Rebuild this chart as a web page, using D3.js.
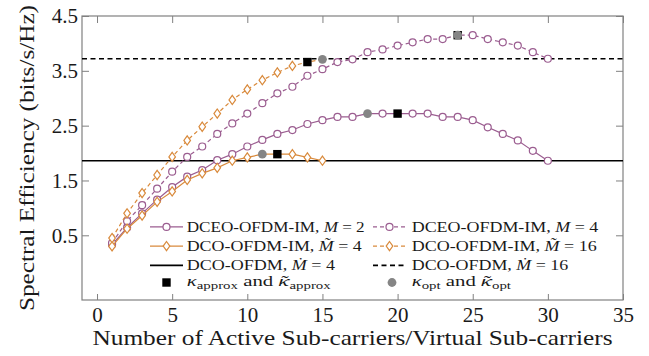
<!DOCTYPE html>
<html><head><meta charset="utf-8">
<script src="https://cdn.jsdelivr.net/npm/d3@7"></script>
<style>body{margin:0;background:#fff} svg{display:block} text{font-family:'Liberation Serif','DejaVu Serif',serif}</style>
</head><body><svg id="chart" width="649" height="356"></svg>
<script>
// ---------- data ----------
const subcarriersDCEO = [1,2,3,4,5,6,7,8,9,10,11,12,13,14,15,16,17,18,19,20,21,22,23,24,25,26,27,28,29,30];
const subcarriersDCO  = [1,2,3,4,5,6,7,8,9,10,11,12,13,14,15];
const seDceoM2  = [0.33,0.64,0.90,1.15,1.38,1.57,1.69,1.87,1.98,2.12,2.24,2.35,2.42,2.53,2.60,2.66,2.66,2.72,2.72,2.72,2.72,2.72,2.66,2.66,2.60,2.47,2.35,2.23,2.04,1.86];
const seDceoM4  = [0.36,0.76,1.05,1.35,1.66,1.93,2.12,2.35,2.54,2.72,2.91,3.09,3.21,3.41,3.53,3.66,3.71,3.84,3.89,3.96,4.02,4.08,4.08,4.15,4.15,4.08,4.02,3.96,3.84,3.72];
const seDcoImM4  = [0.30,0.62,0.86,1.11,1.30,1.51,1.63,1.73,1.86,1.92,1.98,1.98,1.98,1.92,1.86];
const seDcoImM16 = [0.45,0.90,1.27,1.60,1.93,2.23,2.48,2.72,2.97,3.16,3.33,3.47,3.59,3.66,3.71];
const seDcoOfdm = [1.86, 3.72];          // Ṁ = 4, Ṁ = 16
const kappaApprox = [20, 24, 12, 14];    // per IM series (same order as above)
const kappaOpt    = [18, 24, 11, 15];
const xTickValues = [0,5,10,15,20,25,30,35];
const yTickValues = [0.5,1.5,2.5,3.5,4.5];

// ---------- styles ----------
const PURPLE = "#9b5d90", ORANGE = "#d98a3c", GRAY = "#858585", AXIS = "#808080";
const FONT = "'Liberation Serif','DejaVu Serif',serif";
const TXT = "#1a1a1a";

const series = [
  {xs: subcarriersDCEO, ys: seDceoM2,  color: PURPLE, dash: null,  marker: "circle",  label: ["DCEO-OFDM-IM, ", "M", " = 2"]},
  {xs: subcarriersDCEO, ys: seDceoM4,  color: PURPLE, dash: "4,3", marker: "circle",  label: ["DCEO-OFDM-IM, ", "M", " = 4"]},
  {xs: subcarriersDCO,  ys: seDcoImM4, color: ORANGE, dash: null,  marker: "diamond", label: ["DCO-OFDM-IM, ", "M\u0303", " = 4"]},
  {xs: subcarriersDCO,  ys: seDcoImM16,color: ORANGE, dash: "4,3", marker: "diamond", label: ["DCO-OFDM-IM, ", "M\u0303", " = 16"]}
];
const refLines = [
  {y: seDcoOfdm[0], dash: null,  label: ["DCO-OFDM, ", "\u1E40", " = 4"]},
  {y: seDcoOfdm[1], dash: "5,3.5", label: ["DCO-OFDM, ", "\u1E40", " = 16"]}
];

// ---------- layout ----------
const L = 82, R = 623, T = 16, B = 300;
const svg = d3.select("#chart");
const x = d3.scaleLinear().domain([-1, 35]).range([L, R]);
const y = d3.scaleLinear().domain([-0.68, 4.5]).range([B, T]);

const diamondPath = "M0,-4.6L3.3,0L0,4.6L-3.3,0Z";

// axes (ticks inward on all sides)
const gx = svg.append("g").attr("transform", `translate(0,${B})`)
  .call(d3.axisBottom(x).tickValues(xTickValues).tickSizeInner(-6).tickSizeOuter(0).tickPadding(7).tickFormat(d3.format("d")));
const gxt = svg.append("g").attr("transform", `translate(0,${T})`)
  .call(d3.axisTop(x).tickValues(xTickValues).tickSizeInner(-7).tickSizeOuter(0).tickFormat(""));
const gy = svg.append("g").attr("transform", `translate(${L},0)`)
  .call(d3.axisLeft(y).tickValues(yTickValues).tickSizeInner(-7).tickSizeOuter(0).tickPadding(4).tickFormat(d3.format(".1f")));
const gyr = svg.append("g").attr("transform", `translate(${R},0)`)
  .call(d3.axisRight(y).tickValues(yTickValues).tickSizeInner(-7).tickSizeOuter(0).tickFormat(""));
[gx, gxt, gy, gyr].forEach(g => {
  g.attr("font-family", null);
  g.select(".domain").remove();
  g.selectAll(".tick line").attr("stroke", AXIS).attr("stroke-width", 1);
  g.selectAll("text").style("font-family", FONT).attr("font-size", 21).attr("fill", TXT);
});
svg.append("rect").attr("x", L).attr("y", T).attr("width", R - L).attr("height", B - T)
  .attr("fill", "none").attr("stroke", AXIS).attr("stroke-width", 1.2);

// axis titles
svg.append("text").attr("x", (L + R) / 2).attr("y", 345).attr("text-anchor", "middle")
  .style("font-family", FONT).attr("font-size", 21).attr("fill", TXT)
  .attr("textLength", 520).attr("lengthAdjust", "spacingAndGlyphs")
  .text("Number of Active Sub-carriers/Virtual Sub-carriers");
svg.append("text").attr("transform", `translate(34,${(T + B) / 2}) rotate(-90)`).attr("text-anchor", "middle")
  .style("font-family", FONT).attr("font-size", 21).attr("fill", TXT)
  .attr("textLength", 306).attr("lengthAdjust", "spacingAndGlyphs")
  .text("Spectral Efficiency (bits/s/Hz)");

const plot = svg.append("g");

// reference DCO-OFDM lines
refLines.forEach(r => {
  plot.append("line").attr("x1", L).attr("x2", R).attr("y1", y(r.y)).attr("y2", y(r.y))
    .attr("stroke", "#000").attr("stroke-width", 1.6).attr("stroke-dasharray", r.dash);
});

// series
const line = d3.line().x(d => x(d[0])).y(d => y(d[1]));
series.forEach((s, i) => {
  const pts = s.xs.map((v, j) => [v, s.ys[j]]);
  plot.append("path").attr("d", line(pts)).attr("fill", "none")
    .attr("stroke", s.color).attr("stroke-width", 1.2).attr("stroke-dasharray", s.dash);
  const mpts = pts.filter(p => p[0] !== kappaApprox[i] && p[0] !== kappaOpt[i]);
  if (s.marker === "circle") {
    plot.selectAll(null).data(mpts).enter().append("circle")
      .attr("cx", d => x(d[0])).attr("cy", d => y(d[1])).attr("r", 3.5)
      .attr("fill", "#fff").attr("stroke", s.color).attr("stroke-width", 1.2);
  } else {
    plot.selectAll(null).data(mpts).enter().append("path")
      .attr("d", diamondPath).attr("transform", d => `translate(${x(d[0])},${y(d[1])})`)
      .attr("fill", "#fff").attr("stroke", s.color).attr("stroke-width", 1.2);
  }
});
// kappa markers
series.forEach((s, i) => {
  const j = s.xs.indexOf(kappaApprox[i]);
  plot.append("rect").attr("x", x(kappaApprox[i]) - 4.2).attr("y", y(s.ys[j]) - 4.2)
    .attr("width", 8.4).attr("height", 8.4).attr("fill", "#000");
});
series.forEach((s, i) => {
  const j = s.xs.indexOf(kappaOpt[i]);
  plot.append("circle").attr("cx", x(kappaOpt[i])).attr("cy", y(s.ys[j])).attr("r", 4.4).attr("fill", GRAY);
});

// ---------- legend ----------
const leg = svg.append("g");
const cols = [{x1: 150, x2: 183, tx: 186.7}, {x1: 373, x2: 406, tx: 411.7}];
const rowsY = [231.5, 250.7, 270, 286];
const widths = [[178, 175, 148.3, 144], [186.6, 185, 156.6, 99.3]];
function addLabel(parts, tx, ty, w) {
  const t = leg.append("text").attr("x", tx).attr("y", ty).style("font-family", FONT).attr("font-size", 14)
    .attr("fill", TXT).attr("textLength", w).attr("lengthAdjust", "spacingAndGlyphs");
  t.append("tspan").text(parts[0]);
  t.append("tspan").attr("font-style", "italic").text(parts[1]);
  t.append("tspan").text(parts[2]);
}
function addKappaLabel(sub, tx, ty, w) {
  const t = leg.append("text").attr("x", tx).attr("y", ty).style("font-family", FONT).attr("font-size", 14)
    .attr("fill", TXT).attr("textLength", w).attr("lengthAdjust", "spacingAndGlyphs");
  t.append("tspan").attr("font-style", "italic").text("\u03BA");
  t.append("tspan").attr("font-size", 10).attr("dy", 3).text(sub);
  t.append("tspan").attr("dy", -3).text(" and ");
  t.append("tspan").style("font-family", "'Noto Serif','DejaVu Serif',serif").attr("font-size", 13).attr("font-style", "italic").text("\u03BA\u0303");
  t.append("tspan").attr("font-size", 10).attr("dy", 3).text(sub);
}
// col0 = M=2, M̃=4, Ṁ=4, κapprox ; col1 = M=4, M̃=16, Ṁ=16, κopt
const legendCols = [[series[0], series[2], refLines[0]], [series[1], series[3], refLines[1]]];
legendCols.forEach((col, c) => {
  const C = cols[c];
  col.forEach((item, r) => {
    const ly = rowsY[r] - 4.6;
    const isSeries = item.marker !== undefined;
    leg.append("line").attr("x1", C.x1).attr("x2", C.x2).attr("y1", ly).attr("y2", ly)
      .attr("stroke", isSeries ? item.color : "#000").attr("stroke-width", isSeries ? 1.2 : 1.6)
      .attr("stroke-dasharray", item.dash);
    const mx = (C.x1 + C.x2) / 2;
    if (isSeries) {
      if (item.marker === "circle") {
        leg.append("circle").attr("cx", mx).attr("cy", ly).attr("r", 3.5)
          .attr("fill", "#fff").attr("stroke", item.color).attr("stroke-width", 1.2);
      } else {
        leg.append("path").attr("d", diamondPath).attr("transform", `translate(${mx},${ly})`)
          .attr("fill", "#fff").attr("stroke", item.color).attr("stroke-width", 1.2);
      }
    }
    addLabel(item.label, C.tx, rowsY[r], widths[c][r]);
  });
});
// kappa legend row
leg.append("rect").attr("x", 166.5 - 4.2).attr("y", 282.5 - 4.2).attr("width", 8.4).attr("height", 8.4).attr("fill", "#000");
addKappaLabel("approx", cols[0].tx, rowsY[3], widths[0][3]);
leg.append("circle").attr("cx", 392).attr("cy", 282.5).attr("r", 4.4).attr("fill", GRAY);
addKappaLabel("opt", cols[1].tx, rowsY[3], widths[1][3]);
</script></body></html>
